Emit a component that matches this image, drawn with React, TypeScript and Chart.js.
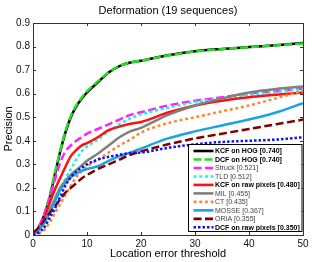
import React, { useEffect, useRef } from "react";
import { Chart, registerables } from "chart.js";

Chart.register(...registerables);

const thresholds = [0, 1, 2, 3, 4, 5, 6, 7, 8, 9, 10, 12, 14, 16, 18, 20, 25, 30, 35, 40, 45, 50];

const kcfHog = [0.0, 0.03, 0.08, 0.15, 0.25, 0.35, 0.435, 0.5, 0.545, 0.578, 0.605, 0.648, 0.69, 0.717, 0.732, 0.74, 0.763, 0.78, 0.79, 0.798, 0.806, 0.815];
const dcfHog = [0.0, 0.03, 0.08, 0.16, 0.26, 0.355, 0.44, 0.505, 0.55, 0.583, 0.61, 0.652, 0.69, 0.717, 0.732, 0.74, 0.762, 0.779, 0.789, 0.797, 0.805, 0.813];
const struck = [0.0, 0.03, 0.085, 0.15, 0.23, 0.305, 0.355, 0.38, 0.4, 0.415, 0.43, 0.45, 0.47, 0.49, 0.51, 0.521, 0.55, 0.57, 0.585, 0.6, 0.61, 0.622];
const tld = [0.0, 0.02, 0.05, 0.09, 0.14, 0.19, 0.24, 0.28, 0.32, 0.355, 0.375, 0.405, 0.44, 0.47, 0.495, 0.512, 0.54, 0.565, 0.58, 0.595, 0.607, 0.62];
const kcfRaw = [0.0, 0.02, 0.06, 0.13, 0.19, 0.24, 0.29, 0.335, 0.36, 0.38, 0.39, 0.415, 0.445, 0.46, 0.472, 0.48, 0.52, 0.55, 0.57, 0.585, 0.595, 0.605];
const mil = [0.0, 0.02, 0.05, 0.1, 0.15, 0.2, 0.23, 0.255, 0.275, 0.295, 0.315, 0.345, 0.38, 0.415, 0.44, 0.455, 0.51, 0.55, 0.58, 0.605, 0.62, 0.63];
const ct = [0.0, 0.005, 0.02, 0.05, 0.09, 0.13, 0.17, 0.21, 0.245, 0.27, 0.29, 0.32, 0.35, 0.38, 0.405, 0.435, 0.475, 0.5, 0.525, 0.55, 0.58, 0.612];
const mosse = [0.0, 0.02, 0.05, 0.09, 0.14, 0.19, 0.22, 0.245, 0.26, 0.272, 0.28, 0.292, 0.315, 0.335, 0.35, 0.367, 0.41, 0.44, 0.465, 0.49, 0.52, 0.56];
const oria = [0.01, 0.03, 0.06, 0.09, 0.12, 0.15, 0.18, 0.2, 0.22, 0.24, 0.255, 0.28, 0.3, 0.32, 0.34, 0.355, 0.385, 0.41, 0.43, 0.45, 0.47, 0.49];
const dcfRaw = [0.0, 0.01, 0.03, 0.07, 0.11, 0.16, 0.21, 0.245, 0.27, 0.285, 0.3, 0.32, 0.332, 0.34, 0.348, 0.35, 0.37, 0.385, 0.395, 0.4, 0.405, 0.415];

const seriesNames = [
  "KCF on HOG [0.740]",
  "DCF on HOG [0.740]",
  "Struck [0.521]",
  "TLD [0.512]",
  "KCF on raw pixels [0.480]",
  "MIL [0.455]",
  "CT [0.435]",
  "MOSSE [0.367]",
  "ORIA [0.355]",
  "DCF on raw pixels [0.350]",
];
const seriesValues = [kcfHog, dcfHog, struck, tld, kcfRaw, mil, ct, mosse, oria, dcfRaw];
const seriesColors = ["#000000", "#22e022", "#ff22ff", "#22eeee", "#ff1010", "#808080", "#ff8833", "#1aa3e0", "#800000", "#1010ff"];
const seriesDash: number[][] = [[], [8, 3], [8, 3.5], [3, 2.7], [], [], [3, 2.7], [], [8, 3.5], [2.5, 2]];
const seriesBold = [true, true, false, false, true, false, false, false, false, true];

const xTicks = [0, 10, 20, 30, 40, 50];
const yTicks = [0, 0.1, 0.2, 0.3, 0.4, 0.5, 0.6, 0.7, 0.8, 0.9];

const titleText = "Deformation (19 sequences)";
const xTitle = "Location error threshold";
const yTitle = "Precision";
const FONT = "'Liberation Sans', Arial, sans-serif";

const decorPlugin = {
  id: "decor",
  afterDatasetsDraw(chart: any) {
    const ctx = chart.ctx;
    const a = chart.chartArea;
    const xs = chart.scales.x;
    const ys = chart.scales.y;
    ctx.save();
    // box
    ctx.strokeStyle = "#333";
    ctx.lineWidth = 1;
    ctx.setLineDash([]);
    ctx.strokeRect(Math.round(a.left) + 0.5, Math.round(a.top) + 0.5, Math.round(a.right - a.left), Math.round(a.bottom - a.top));
    // inward ticks
    const tl = 3;
    ctx.beginPath();
    xTicks.forEach((v) => {
      const px = Math.round(xs.getPixelForValue(v)) + 0.5;
      ctx.moveTo(px, a.bottom);
      ctx.lineTo(px, a.bottom - tl);
      ctx.moveTo(px, a.top);
      ctx.lineTo(px, a.top + tl);
    });
    yTicks.forEach((v) => {
      const py = Math.round(ys.getPixelForValue(v)) + 0.5;
      ctx.moveTo(a.left, py);
      ctx.lineTo(a.left + tl, py);
      ctx.moveTo(a.right, py);
      ctx.lineTo(a.right - tl, py);
    });
    ctx.stroke();

    // legend
    const lx = 188.5, ly = 144.5, lw = 113.5, lh = 87;
    ctx.fillStyle = "#ffffff";
    ctx.fillRect(lx, ly, lw, lh);
    ctx.strokeStyle = "#000";
    ctx.strokeRect(lx, ly, lw, lh);
    seriesNames.forEach((name, i) => {
      const y = 151 + i * 8.48;
      ctx.beginPath();
      ctx.strokeStyle = seriesColors[i];
      ctx.lineWidth = 2.6;
      ctx.lineCap = "butt";
      ctx.setLineDash(seriesDash[i]);
      ctx.moveTo(193.5, y);
      ctx.lineTo(213.5, y);
      ctx.stroke();
      ctx.setLineDash([]);
      ctx.fillStyle = seriesBold[i] ? "#000" : "#444";
      ctx.font = (seriesBold[i] ? "bold " : "") + "7px " + FONT;
      ctx.textAlign = "left";
      ctx.textBaseline = "middle";
      ctx.fillText(name, 215, y + 0.5);
    });

    // titles
    ctx.fillStyle = "#000";
    ctx.font = "11px " + FONT;
    ctx.textAlign = "center";
    ctx.textBaseline = "middle";
    const cx = (a.left + a.right) / 2;
    ctx.fillText(titleText, cx, 11);
    ctx.fillText(xTitle, cx, 254);
    ctx.translate(9, (a.top + a.bottom) / 2);
    ctx.rotate(-Math.PI / 2);
    ctx.fillText(yTitle, 0, 0);
    ctx.restore();
  },
};

export default function App() {
  const ref = useRef<HTMLCanvasElement | null>(null);
  useEffect(() => {
    if (!ref.current) return;
    const n = seriesNames.length;
    const datasets = seriesValues.map((vals, i) => ({
      label: seriesNames[i],
      data: thresholds.map((t, j) => ({ x: t, y: vals[j] })),
      borderColor: seriesColors[i],
      borderWidth: 2.5,
      borderDash: seriesDash[i],
      borderCapStyle: "butt" as const,
      pointRadius: 0,
      fill: false,
      cubicInterpolationMode: "monotone" as const,
      order: n - i,
    }));
    const chart = new Chart(ref.current, {
      type: "line",
      data: { datasets },
      options: {
        animation: false,
        responsive: false,
        maintainAspectRatio: false,
        layout: { padding: { top: 23, right: 9, left: 0, bottom: 0 } },
        plugins: { legend: { display: false }, title: { display: false }, tooltip: { enabled: false } },
        scales: {
          x: {
            type: "linear",
            min: 0,
            max: 50,
            grid: { display: false, drawTicks: false },
            border: { display: false },
            afterFit: (s: any) => { s.height = 27; },
            afterBuildTicks: (s: any) => { s.ticks = xTicks.map((v) => ({ value: v })); },
            ticks: { color: "#111", padding: 3, font: { family: FONT, size: 10 }, maxRotation: 0 },
          },
          y: {
            type: "linear",
            min: 0,
            max: 0.9,
            grid: { display: false, drawTicks: false },
            border: { display: false },
            afterFit: (s: any) => { s.width = 33; },
            afterBuildTicks: (s: any) => { s.ticks = yTicks.map((v) => ({ value: v })); },
            ticks: {
              color: "#111",
              padding: 3,
              font: { family: FONT, size: 10 },
              callback: (v: any) => (v === 0 ? "0" : Number(v).toFixed(1)),
            },
          },
        },
      },
      plugins: [decorPlugin],
    });
    return () => chart.destroy();
  }, []);
  return (
    <div style={{ position: "absolute", left: 0, top: 0, width: 312, height: 262, background: "#fff" }}>
      <canvas ref={ref} width={312} height={262} style={{ display: "block" }} />
    </div>
  );
}
